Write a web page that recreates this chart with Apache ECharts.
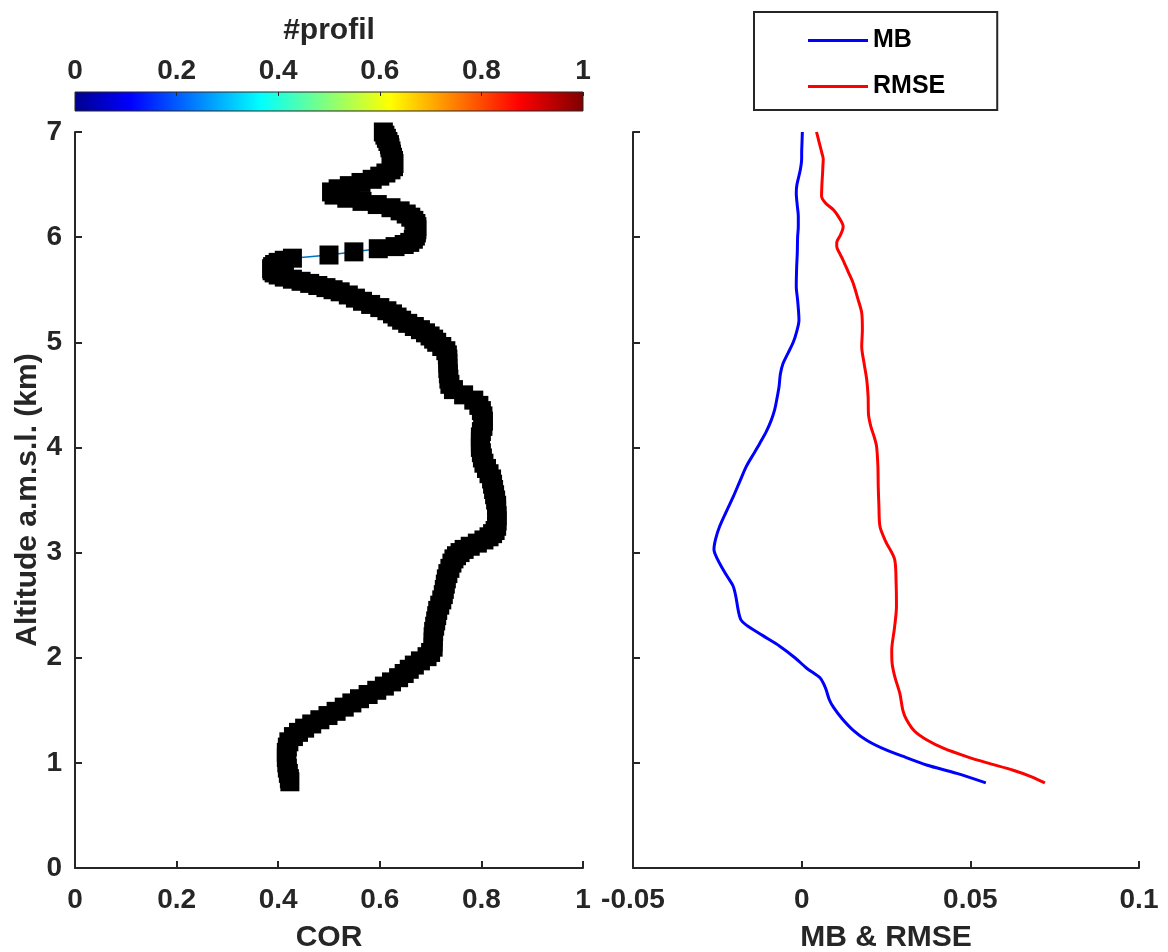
<!DOCTYPE html>
<html>
<head>
<meta charset="utf-8">
<script src="https://cdn.jsdelivr.net/npm/echarts@6/dist/echarts.min.js"></script>
<style>html,body{margin:0;padding:0;background:#fff}#c{width:1168px;height:952px}</style>
</head>
<body>
<div id="c"></div>
<script>
// Altitude (km) and correlation (COR) of the left panel
const corAlt = [7.00,6.97,6.94,6.91,6.88,6.85,6.82,6.79,6.76,6.73,6.70,6.67,6.64,6.61,6.58,6.55,6.52,6.49,6.46,6.43,6.40,6.37,6.34,6.31,6.28,6.25,6.22,6.19,6.16,6.13,6.10,6.07,6.04,6.01,5.98,5.95,5.93,5.91,5.89,5.86,5.83,5.80,5.78,5.76,5.74,5.72,5.70,5.68,5.66,5.64,5.62,5.60,5.58,5.56,5.54,5.52,5.50,5.48,5.45,5.42,5.39,5.36,5.33,5.30,5.27,5.24,5.21,5.18,5.15,5.12,5.09,5.06,5.03,5.00,4.96,4.92,4.88,4.84,4.80,4.75,4.70,4.65,4.60,4.55,4.50,4.45,4.40,4.35,4.30,4.25,4.20,4.15,4.10,4.05,4.00,3.95,3.90,3.85,3.80,3.75,3.70,3.65,3.60,3.55,3.50,3.45,3.40,3.35,3.30,3.25,3.21,3.18,3.15,3.12,3.09,3.06,3.03,3.00,2.97,2.94,2.90,2.85,2.80,2.75,2.70,2.65,2.60,2.55,2.50,2.45,2.40,2.35,2.30,2.25,2.20,2.15,2.10,2.05,2.01,1.97,1.93,1.89,1.85,1.81,1.77,1.73,1.69,1.65,1.61,1.57,1.53,1.49,1.45,1.41,1.37,1.33,1.29,1.25,1.20,1.15,1.10,1.05,1.00,0.95,0.90,0.85,0.82];
const corVal = [0.607,0.610,0.613,0.616,0.619,0.620,0.622,0.623,0.625,0.627,0.628,0.627,0.622,0.612,0.600,0.585,0.563,0.540,0.518,0.505,0.510,0.535,0.565,0.595,0.622,0.640,0.652,0.661,0.667,0.671,0.673,0.673,0.672,0.670,0.666,0.659,0.648,0.630,0.597,0.549,0.500,0.428,0.412,0.400,0.393,0.389,0.387,0.388,0.392,0.400,0.412,0.428,0.445,0.462,0.478,0.494,0.508,0.522,0.538,0.552,0.566,0.582,0.600,0.614,0.625,0.634,0.643,0.655,0.668,0.680,0.690,0.699,0.706,0.712,0.722,0.730,0.733,0.734,0.734,0.734,0.735,0.736,0.738,0.745,0.765,0.785,0.795,0.800,0.803,0.804,0.803,0.800,0.798,0.798,0.798,0.800,0.802,0.805,0.810,0.815,0.820,0.822,0.824,0.826,0.828,0.830,0.830,0.831,0.831,0.830,0.827,0.822,0.815,0.805,0.792,0.778,0.766,0.758,0.751,0.746,0.742,0.738,0.734,0.731,0.729,0.727,0.725,0.722,0.718,0.714,0.712,0.710,0.708,0.706,0.705,0.705,0.705,0.700,0.693,0.680,0.668,0.658,0.648,0.637,0.623,0.609,0.594,0.577,0.560,0.545,0.530,0.514,0.498,0.482,0.466,0.452,0.440,0.430,0.421,0.418,0.416,0.416,0.417,0.418,0.420,0.422,0.423];

// Mean bias (MB)
const mbAlt = [7.00,6.90,6.80,6.75,6.64,6.50,6.42,6.30,6.20,6.10,6.00,5.85,5.70,5.53,5.40,5.21,5.10,5.00,4.90,4.80,4.70,4.58,4.47,4.36,4.26,4.15,4.04,3.93,3.82,3.68,3.53,3.40,3.25,3.13,3.03,2.94,2.84,2.76,2.68,2.58,2.45,2.36,2.31,2.21,2.11,2.00,1.90,1.81,1.76,1.70,1.60,1.53,1.42,1.31,1.21,1.12,1.05,0.98,0.90,0.81];
const mbVal = [0.0002,0.0001,0.0000,0.0000,-0.0004,-0.0014,-0.0016,-0.0013,-0.0010,-0.0010,-0.0012,-0.0013,-0.0015,-0.0016,-0.0012,-0.0008,-0.0015,-0.0025,-0.0040,-0.0055,-0.0063,-0.0067,-0.0073,-0.0080,-0.0090,-0.0105,-0.0124,-0.0144,-0.0164,-0.0183,-0.0203,-0.0222,-0.0243,-0.0255,-0.0260,-0.0250,-0.0233,-0.0218,-0.0203,-0.0195,-0.0188,-0.0180,-0.0164,-0.0115,-0.0065,-0.0020,0.0015,0.0054,0.0064,0.0072,0.0082,0.0094,0.0120,0.0153,0.0195,0.0252,0.0310,0.0370,0.0460,0.0546];

// Root mean square error (RMSE)
const rmseAlt = [7.00,6.90,6.80,6.74,6.68,6.61,6.50,6.39,6.32,6.26,6.18,6.10,6.02,5.95,5.91,5.85,5.78,5.67,5.56,5.42,5.28,5.12,4.96,4.80,4.64,4.48,4.32,4.20,4.10,4.01,3.82,3.63,3.44,3.25,3.10,2.93,2.71,2.49,2.28,2.07,1.95,1.82,1.66,1.50,1.41,1.30,1.22,1.14,1.06,1.00,0.93,0.87,0.81];
const rmseVal = [0.0044,0.0052,0.0060,0.0064,0.0063,0.0062,0.0060,0.0059,0.0072,0.0094,0.0112,0.0123,0.0115,0.0104,0.0104,0.0112,0.0123,0.0138,0.0153,0.0166,0.0178,0.0180,0.0178,0.0185,0.0193,0.0197,0.0198,0.0205,0.0215,0.0222,0.0226,0.0227,0.0229,0.0232,0.0250,0.0276,0.0280,0.0281,0.0275,0.0267,0.0268,0.0276,0.0291,0.0300,0.0311,0.0335,0.0370,0.0420,0.0489,0.0550,0.0627,0.0680,0.0721];

const corTicks = [0, 0.2, 0.4, 0.6, 0.8, 1];
const errTicks = [-0.05, 0, 0.05, 0.1];
const altTicks = [0, 1, 2, 3, 4, 5, 6, 7];
const seriesNames = ['MB', 'RMSE'];
const axisTitles = { cor: 'COR', err: 'MB & RMSE', alt: 'Altitude a.m.s.l. (km)', cbar: '#profil' };

const FONT = "'Liberation Sans', Arial, Helvetica, sans-serif";
const TXT = '#262626';
const zip = (a, b) => a.map((v, i) => [b[i], v]);

const jet = {
  type: 'linear', x: 0, y: 0, x2: 1, y2: 0,
  colorStops: [
    { offset: 0, color: 'rgb(0,0,143)' },
    { offset: 0.11, color: 'rgb(0,0,255)' },
    { offset: 0.365, color: 'rgb(0,255,255)' },
    { offset: 0.62, color: 'rgb(255,255,0)' },
    { offset: 0.873, color: 'rgb(255,0,0)' },
    { offset: 1, color: 'rgb(128,0,0)' }
  ]
};

const labelStyle = { color: TXT, fontSize: 28, fontWeight: 'bold', fontFamily: FONT };
const nameStyle = { color: TXT, fontSize: 30, fontWeight: 'bold', fontFamily: FONT };
const axLine = { show: true, onZero: false, lineStyle: { color: TXT, width: 2 } };
const axTick = { show: true, inside: true, length: 7, lineStyle: { color: TXT, width: 2 } };

const chart = echarts.init(document.getElementById('c'), null, { renderer: 'canvas' });
chart.setOption({
  backgroundColor: '#fff',
  animation: false,
  legend: {
    data: seriesNames,
    orient: 'vertical',
    left: 754, top: 12,
    padding: [16, 52, 11, 54],
    icon: 'rect',
    itemWidth: 60, itemHeight: 3, itemGap: 21,
    borderColor: TXT, borderWidth: 2,
    textStyle: { color: '#000', fontSize: 25, fontWeight: 'bold', fontFamily: FONT }
  },
  grid: [
    { left: 75, top: 132, width: 508, height: 736, outerBoundsMode: 'none', containLabel: false },
    { left: 633, top: 132, width: 506, height: 736, outerBoundsMode: 'none', containLabel: false },
    { left: 75, top: 92, width: 508, height: 19, outerBoundsMode: 'none', containLabel: false,
      show: true, backgroundColor: jet, borderColor: TXT, borderWidth: 1 }
  ],
  xAxis: [
    { gridIndex: 0, type: 'value', min: corTicks[0], max: corTicks[corTicks.length - 1], interval: 0.2,
      name: axisTitles.cor, nameLocation: 'middle', nameGap: 55, nameTextStyle: nameStyle,
      axisLine: axLine, axisTick: axTick, splitLine: { show: false },
      axisLabel: Object.assign({ margin: 18 }, labelStyle) },
    { gridIndex: 1, type: 'value', min: errTicks[0], max: errTicks[errTicks.length - 1], interval: 0.05,
      name: axisTitles.err, nameLocation: 'middle', nameGap: 55, nameTextStyle: nameStyle,
      axisLine: axLine, axisTick: axTick, splitLine: { show: false },
      axisLabel: Object.assign({ margin: 18 }, labelStyle) },
    { gridIndex: 2, type: 'value', position: 'top', min: 0, max: 1, interval: 0.2,
      name: axisTitles.cbar, nameLocation: 'middle', nameGap: 46, nameTextStyle: nameStyle,
      axisLine: { show: false, onZero: false }, splitLine: { show: false },
      axisTick: { show: true, inside: true, length: 4, lineStyle: { color: TXT, width: 1 } },
      axisLabel: Object.assign({ margin: 7 }, labelStyle) }
  ],
  yAxis: [
    { gridIndex: 0, type: 'value', min: altTicks[0], max: altTicks[altTicks.length - 1], interval: 1,
      name: axisTitles.alt, nameLocation: 'middle', nameGap: 30, nameTextStyle: nameStyle,
      axisLine: axLine, axisTick: axTick, splitLine: { show: false },
      axisLabel: Object.assign({ margin: 13 }, labelStyle) },
    { gridIndex: 1, type: 'value', min: altTicks[0], max: altTicks[altTicks.length - 1], interval: 1,
      axisLine: axLine, axisTick: axTick, splitLine: { show: false },
      axisLabel: { show: false } },
    { gridIndex: 2, type: 'value', min: 0, max: 1, show: false }
  ],
  series: [
    { name: 'COR', type: 'line', xAxisIndex: 0, yAxisIndex: 0,
      data: zip(corAlt, corVal),
      lineStyle: { color: '#0072BD', width: 1.5 },
      symbol: 'rect', symbolSize: 19, showSymbol: true, showAllSymbol: true,
      itemStyle: { color: '#000', borderWidth: 0 }, z: 3 },
    { name: seriesNames[0], type: 'line', xAxisIndex: 1, yAxisIndex: 1,
      data: zip(mbAlt, mbVal), smooth: 0.3, symbol: 'none',
      lineStyle: { color: '#0000FF', width: 3 }, itemStyle: { color: '#0000FF' } },
    { name: seriesNames[1], type: 'line', xAxisIndex: 1, yAxisIndex: 1,
      data: zip(rmseAlt, rmseVal), smooth: 0.3, symbol: 'none',
      lineStyle: { color: '#FF0000', width: 3 }, itemStyle: { color: '#FF0000' } }
  ]
});
</script>
</body>
</html>
